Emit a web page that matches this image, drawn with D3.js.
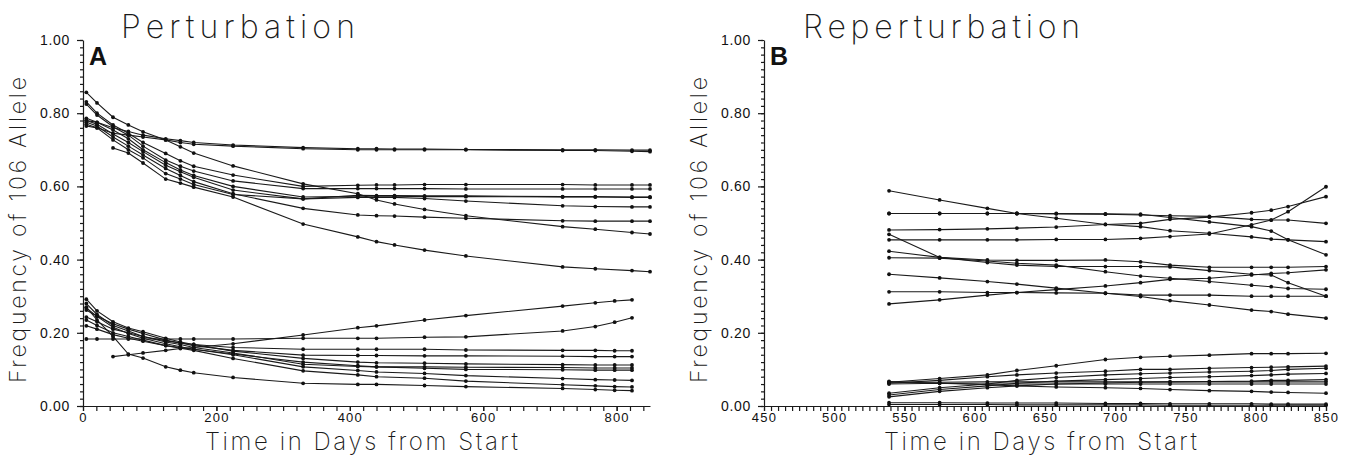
<!DOCTYPE html>
<html>
<head>
<meta charset="utf-8">
<script src="https://cdn.jsdelivr.net/npm/d3@7"></script>
<style>
  body { margin: 0; background: #fff; }
  svg { display: block; }
  .tick text { font-family: "Liberation Sans", Arial, sans-serif; }
  .thin { font-family: "Inter", "DejaVu Sans", sans-serif; font-weight: 200; fill: #1a1a1a; }
</style>
</head>
<body>
<div id="chart"></div>
<script>
// Data: panel A, perturbation -------------------------------------------------
const timesAUpper = [5, 21, 45, 68, 90, 124, 146, 166, 225, 330, 412, 440, 467, 512, 574, 719, 768, 823, 850];
const seriesAUpper = [
  [0.78, 0.775, 0.76, 0.75, 0.74, 0.73, 0.725, 0.72, 0.713, 0.706, 0.703, 0.703, 0.702, 0.702, 0.701, 0.70, 0.70, 0.699, 0.699],
  [0.765, 0.76, 0.745, 0.74, 0.735, 0.727, 0.72, 0.715, 0.71, 0.703, 0.70, 0.70, 0.70, 0.70, 0.70, 0.698, 0.698, 0.696, 0.695],
  [0.857, 0.828, 0.789, 0.768, 0.749, 0.727, 0.708, 0.691, 0.656, 0.607, 0.58, 0.563, 0.552, 0.537, 0.52, 0.49, 0.483, 0.474, 0.47],
  [0.831, 0.80, 0.768, 0.745, 0.72, 0.69, 0.67, 0.655, 0.631, 0.60, 0.603, 0.604, 0.604, 0.605, 0.605, 0.605, 0.604, 0.604, 0.604],
  [0.825, 0.795, 0.763, 0.74, 0.71, 0.672, 0.655, 0.642, 0.615, 0.594, 0.594, 0.594, 0.594, 0.594, 0.593, 0.593, 0.593, 0.593, 0.593],
  [0.786, 0.775, 0.754, 0.73, 0.70, 0.665, 0.645, 0.63, 0.60, 0.571, 0.573, 0.573, 0.573, 0.572, 0.572, 0.571, 0.571, 0.571, 0.571],
  [0.78, 0.77, 0.743, 0.72, 0.695, 0.658, 0.64, 0.625, 0.59, 0.566, 0.576, 0.575, 0.575, 0.574, 0.574, 0.572, 0.572, 0.57, 0.57],
  [0.775, 0.765, 0.735, 0.71, 0.686, 0.649, 0.63, 0.613, 0.58, 0.54, 0.522, 0.52, 0.519, 0.516, 0.513, 0.506, 0.505, 0.505, 0.505],
  [0.77, 0.76, 0.727, 0.70, 0.678, 0.635, 0.62, 0.605, 0.578, 0.566, 0.57, 0.57, 0.57, 0.567, 0.56, 0.547, 0.545, 0.544, 0.544],
  [null, null, 0.705, 0.691, 0.664, 0.62, 0.609, 0.598, 0.571, 0.497, 0.462, 0.449, 0.44, 0.426, 0.41, 0.38, 0.375, 0.37, 0.367]
];

const timesALower = [5, 21, 45, 68, 90, 124, 146, 166, 225, 330, 412, 440, 512, 574, 719, 768, 797, 823];
const seriesALower = [
  [0.243, 0.23, 0.21, 0.2, 0.19, 0.178, 0.172, 0.168, 0.16, 0.155, 0.155, 0.155, 0.155, 0.153, 0.152, 0.152, 0.151, 0.151],
  [0.262, 0.245, 0.225, 0.21, 0.198, 0.18, 0.172, 0.165, 0.152, 0.139, 0.138, 0.138, 0.137, 0.137, 0.136, 0.135, 0.135, 0.135],
  [0.292, 0.26, 0.23, 0.213, 0.203, 0.185, 0.175, 0.168, 0.15, 0.13, 0.12, 0.118, 0.117, 0.115, 0.113, 0.112, 0.112, 0.112],
  [0.28, 0.25, 0.22, 0.205, 0.19, 0.175, 0.168, 0.16, 0.145, 0.114, 0.108, 0.107, 0.107, 0.106, 0.105, 0.104, 0.104, 0.104],
  [0.268, 0.245, 0.215, 0.198, 0.185, 0.17, 0.162, 0.155, 0.14, 0.107, 0.097, 0.093, 0.089, 0.083, 0.075, 0.072, 0.071, 0.07],
  [0.235, 0.22, 0.2, 0.19, 0.18, 0.165, 0.158, 0.152, 0.13, 0.096, 0.085, 0.08, 0.076, 0.068, 0.058, 0.055, 0.053, 0.052],
  [0.219, 0.21, 0.195, 0.185, 0.177, 0.165, 0.16, 0.155, 0.142, 0.12, 0.11, 0.107, 0.103, 0.1, 0.099, 0.098, 0.098, 0.098],
  [0.27, 0.235, 0.19, 0.142, 0.131, 0.107, 0.098, 0.091, 0.078, 0.062, 0.059, 0.059, 0.056, 0.053, 0.048, 0.045, 0.043, 0.042],
  [null, null, 0.135, 0.14, 0.145, 0.152, 0.157, 0.16, 0.17, 0.194, 0.214, 0.219, 0.235, 0.247, 0.273, 0.282, 0.287, 0.29],
  [0.183, 0.183, 0.183, 0.183, 0.183, 0.183, 0.183, 0.183, 0.183, 0.185, 0.185, 0.185, 0.188, 0.189, 0.205, 0.217, 0.229, 0.241]
];

// Data: panel B, reperturbation -----------------------------------------------
const timesB = [539, 575, 609, 630, 658, 693, 718, 739, 767, 797, 811, 823, 850];
const seriesBUpper = [
  [0.588, 0.563, 0.54, 0.526, 0.513, 0.496, 0.49, 0.479, 0.472, 0.462, 0.456, 0.454, 0.449],
  [0.526, 0.526, 0.526, 0.526, 0.525, 0.524, 0.522, 0.52, 0.518, 0.51, 0.508, 0.508, 0.499],
  [0.526, 0.526, 0.526, 0.526, 0.526, 0.525, 0.524, 0.515, 0.503, 0.49, 0.478, 0.454, 0.413],
  [0.481, 0.482, 0.484, 0.486, 0.489, 0.496, 0.499, 0.51, 0.516, 0.528, 0.535, 0.545, 0.572],
  [0.454, 0.454, 0.454, 0.454, 0.455, 0.455, 0.458, 0.463, 0.47, 0.495, 0.508, 0.531, 0.599]
];
const seriesBMiddle = [
  [0.469, 0.406, 0.392, 0.385, 0.381, 0.381, 0.381, 0.38, 0.37, 0.36, 0.358, 0.337, 0.30],
  [0.423, 0.406, 0.399, 0.398, 0.398, 0.399, 0.394, 0.385, 0.379, 0.379, 0.379, 0.379, 0.381],
  [0.405, 0.404, 0.396, 0.39, 0.385, 0.367, 0.355, 0.349, 0.34, 0.33, 0.326, 0.321, 0.319],
  [0.36, 0.35, 0.34, 0.333, 0.322, 0.308, 0.299, 0.288, 0.276, 0.262, 0.258, 0.251, 0.24],
  [0.312, 0.312, 0.31, 0.31, 0.309, 0.308, 0.303, 0.303, 0.303, 0.30, 0.30, 0.30, 0.30],
  [0.279, 0.29, 0.303, 0.31, 0.318, 0.328, 0.337, 0.346, 0.349, 0.358, 0.362, 0.364, 0.372]
];
const seriesBLower = [
  [0.065, 0.075, 0.085, 0.097, 0.11, 0.127, 0.133, 0.136, 0.139, 0.143, 0.143, 0.143, 0.144],
  [0.062, 0.07, 0.08, 0.085, 0.09, 0.095, 0.1, 0.1, 0.103, 0.105, 0.106, 0.107, 0.109],
  [0.035, 0.05, 0.06, 0.07, 0.078, 0.085, 0.088, 0.09, 0.093, 0.095, 0.097, 0.1, 0.103],
  [0.03, 0.045, 0.055, 0.062, 0.068, 0.072, 0.075, 0.078, 0.08, 0.083, 0.085, 0.087, 0.089],
  [0.065, 0.065, 0.066, 0.066, 0.066, 0.066, 0.066, 0.066, 0.066, 0.066, 0.066, 0.066, 0.066],
  [0.06, 0.062, 0.06, 0.06, 0.06, 0.06, 0.06, 0.06, 0.06, 0.06, 0.06, 0.06, 0.06],
  [0.067, 0.062, 0.058, 0.055, 0.052, 0.05, 0.048, 0.045, 0.042, 0.04, 0.038, 0.037, 0.035],
  [0.025, 0.04, 0.05, 0.055, 0.06, 0.063, 0.065, 0.066, 0.067, 0.068, 0.07, 0.07, 0.072],
  [0.009, 0.009, 0.008, 0.008, 0.008, 0.007, 0.007, 0.006, 0.006, 0.006, 0.005, 0.005, 0.005],
  [0.004, 0.004, 0.004, 0.003, 0.003, 0.003, 0.003, 0.002, 0.002, 0.002, 0.002, 0.002, 0.002]
];

const yTicks = [0, 0.2, 0.4, 0.6, 0.8, 1.0];
const xTicksA = [0, 200, 400, 600, 800];
const xTicksB = [450, 500, 550, 600, 650, 700, 750, 800, 850];

// Layout ----------------------------------------------------------------------
const width = 1350;
const height = 456;

const svg = d3.select("#chart")
  .append("svg")
  .attr("width", width)
  .attr("height", height);

const y = d3.scaleLinear().domain([0, 1]).range([406, 40]);

function drawPanel(cfg) {
  const x = d3.scaleLinear().domain(cfg.xDomain).range(cfg.xRange);
  const g = svg.append("g");

  // minor ticks
  g.append("g")
    .attr("transform", `translate(${cfg.xRange[0]},0)`)
    .call(d3.axisLeft(y).tickValues(d3.range(0, 1.001, 0.02)).tickSize(3).tickFormat(""))
    .call(a => a.select(".domain").remove());
  g.append("g")
    .attr("transform", "translate(0,406)")
    .call(d3.axisBottom(x).tickValues(d3.range(cfg.xDomain[0], cfg.xDomain[1] + 0.1, cfg.xMinor)).tickSize(5).tickFormat(""))
    .call(a => a.select(".domain").remove());

  // major axes
  g.append("g")
    .attr("transform", `translate(${cfg.xRange[0]},0)`)
    .call(d3.axisLeft(y).tickValues(yTicks).tickSize(6).tickSizeOuter(0).tickPadding(7).tickFormat(d3.format(".2f")))
    .call(a => a.selectAll("text").attr("font-size", 14).attr("letter-spacing", 0.7).attr("fill", "#111"));
  g.append("g")
    .attr("transform", "translate(0,406)")
    .call(d3.axisBottom(x).tickValues(cfg.xTicks).tickSize(5).tickSizeOuter(0).tickPadding(2))
    .call(a => a.selectAll("text").attr("font-size", 13).attr("letter-spacing", 1.2).attr("fill", "#111"));
  g.selectAll(".domain, .tick line").attr("stroke", "#1a1a1a").attr("stroke-width", 1.2);

  // series
  const line = d3.line()
    .defined(d => d[1] != null)
    .x(d => x(d[0]))
    .y(d => y(d[1]));

  cfg.groups.forEach(grp => {
    grp.series.forEach(vals => {
      const pts = grp.times.map((t, i) => [t, vals[i]]);
      g.append("path")
        .datum(pts)
        .attr("d", line)
        .attr("fill", "none")
        .attr("stroke", "#1a1a1a")
        .attr("stroke-width", 1.1);
      g.append("g")
        .selectAll("circle")
        .data(pts.filter(d => d[1] != null))
        .join("circle")
        .attr("cx", d => x(d[0]))
        .attr("cy", d => y(d[1]))
        .attr("r", 1.9)
        .attr("fill", "#111");
    });
  });

  // title, panel letter, axis labels
  g.append("text")
    .attr("class", "thin")
    .attr("x", cfg.titleX)
    .attr("y", 38)
    .attr("font-size", 32)
    .attr("textLength", cfg.titleLen)
    .attr("lengthAdjust", "spacing")
    .text(cfg.title);

  g.append("text")
    .attr("x", cfg.xRange[0] + 6)
    .attr("y", 65)
    .attr("font-family", "Liberation Sans, Arial, sans-serif")
    .attr("font-weight", "bold")
    .attr("font-size", 25)
    .attr("fill", "#111")
    .text(cfg.letter);

  g.append("text")
    .attr("class", "thin")
    .attr("transform", `translate(${cfg.xRange[0] - 57},230) rotate(-90)`)
    .attr("text-anchor", "middle")
    .attr("font-size", 23)
    .attr("textLength", 306)
    .attr("lengthAdjust", "spacing")
    .text("Frequency of 106 Allele");

  g.append("text")
    .attr("class", "thin")
    .attr("x", cfg.xLabelX)
    .attr("y", 450)
    .attr("font-size", 24)
    .attr("textLength", 313)
    .attr("lengthAdjust", "spacing")
    .text("Time in Days from Start");
}

drawPanel({
  xDomain: [0, 850],
  xRange: [83, 650],
  xMinor: 20,
  xTicks: xTicksA,
  title: "Perturbation",
  titleX: 121,
  titleLen: 234,
  letter: "A",
  xLabelX: 205,
  groups: [
    { times: timesAUpper, series: seriesAUpper },
    { times: timesALower, series: seriesALower }
  ]
});

drawPanel({
  xDomain: [450, 850],
  xRange: [764, 1326],
  xMinor: 5,
  xTicks: xTicksB,
  title: "Reperturbation",
  titleX: 803,
  titleLen: 277,
  letter: "B",
  xLabelX: 884,
  groups: [
    { times: timesB, series: seriesBUpper },
    { times: timesB, series: seriesBMiddle },
    { times: timesB, series: seriesBLower }
  ]
});
</script>
</body>
</html>
